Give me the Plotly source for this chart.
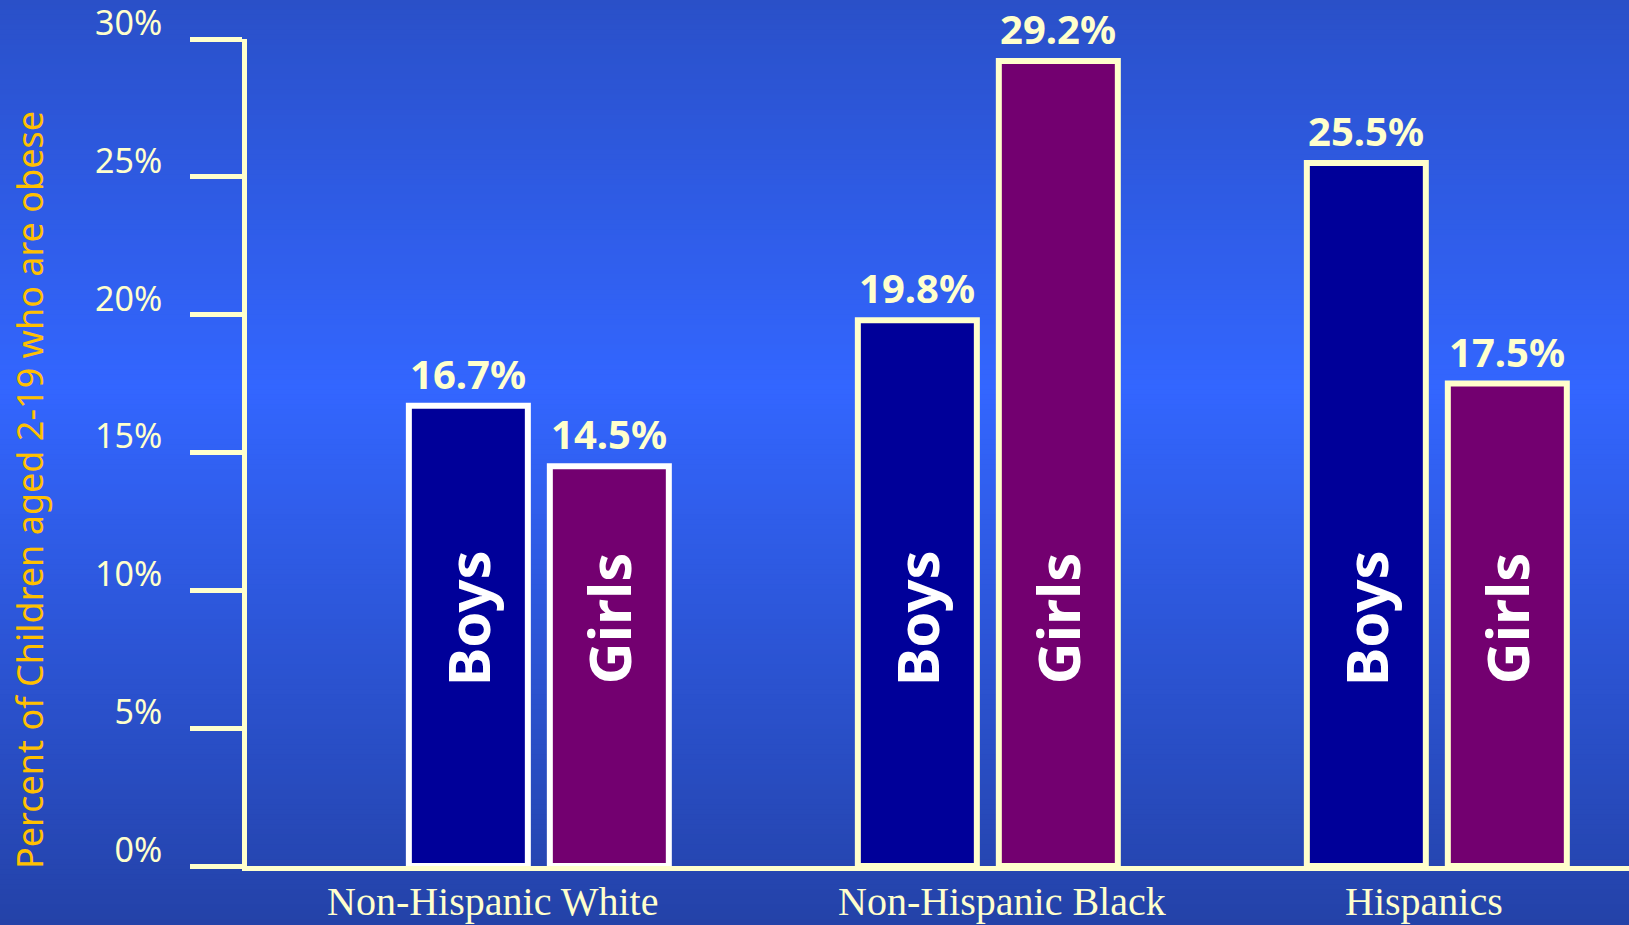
import numpy as np
import plotly.graph_objects as go

# ---- data ----
categories = ["Non-Hispanic White", "Non-Hispanic Black", "Hispanics"]
boys = [16.7, 19.8, 25.5]
girls = [14.5, 29.2, 17.5]
series_names = ["Boys", "Girls"]
y_ticks = [0, 5, 10, 15, 20, 25, 30]
y_tick_labels = ["0%", "5%", "10%", "15%", "20%", "25%", "30%"]
y_title = "Percent of Children aged 2-19 who are obese"

# ---- style ----
W, H = 1629, 925
ML, MR, MT, MB = 247, 0, 39, 59
CREAM = "#FFFFCC"
BOY_COLOR = "#000099"
GIRL_COLOR = "#730070"
border_colors = ["#FFFFFF", CREAM, CREAM]
slot_px = 70.5
label_shifts = [-46, 14, -13]
pw = W - ML - MR
ph = H - MT - MB

fig = go.Figure()
for name, vals, col, sh in [(series_names[0], boys, BOY_COLOR, -slot_px),
                            (series_names[1], girls, GIRL_COLOR, slot_px)]:
    fig.add_trace(go.Bar(
        x=categories, y=vals, name=name,
        marker=dict(color=col, line=dict(color=border_colors, width=6)),
        hoverinfo="skip", showlegend=False,
    ))
    for c, v in zip(categories, vals):
        fig.add_annotation(x=c, y=v, xref="x", yref="y", xshift=sh, yshift=3,
                           yanchor="bottom", showarrow=False,
                           text=f"<b>{v:.1f}%</b>",
                           font=dict(family="Noto Sans", size=40, color=CREAM))
        fig.add_annotation(x=c, y=9, xref="x", yref="y", xshift=sh,
                           showarrow=False, textangle=-90,
                           text=f"<b>{name}</b>",
                           font=dict(family="Noto Sans", size=58, color="#FFFFFF"))

for c, s in zip(categories, label_shifts):
    fig.add_annotation(x=c, y=0, xref="x", yref="paper", xshift=s, yshift=-11,
                       yanchor="top", showarrow=False, text=c,
                       font=dict(family="Liberation Serif", size=40, color=CREAM))

# y-axis title
fig.add_annotation(x=-(ML - 29) / pw, y=(H - MB - 490) / ph, xref="paper", yref="paper",
                   xanchor="center", yanchor="middle",
                   showarrow=False, textangle=-90, text=y_title,
                   font=dict(family="Noto Sans", size=36, color="#FFC000"))

# background gradient as stripes
stops_y = [0, 0.42 * H, H]
stops_c = np.array([[42, 80, 200], [51, 102, 255], [36, 66, 168]])
n = 185
edges = np.linspace(0, H, n + 1)
shapes = []
for i in range(n):
    ymid = (edges[i] + edges[i + 1]) / 2
    rgb = [int(round(np.interp(ymid, stops_y, stops_c[:, k]))) for k in range(3)]
    y0 = 1 - (edges[i + 1] - MT) / ph
    y1 = 1 - (edges[i] - MT) / ph
    shapes.append(dict(type="rect", xref="paper", yref="paper",
                       x0=-ML / pw - 0.01, x1=1.01, y0=y0 - 0.001, y1=y1 + 0.001,
                       line=dict(width=0), fillcolor=f"rgb({rgb[0]},{rgb[1]},{rgb[2]})",
                       layer="below"))

fig.update_layout(
    width=W, height=H,
    margin=dict(l=ML, r=MR, t=MT, b=MB, autoexpand=False),
    paper_bgcolor="rgb(45,85,210)",
    plot_bgcolor="rgba(0,0,0,0)",
    barmode="group", bargap=0.372, bargroupgap=0.156,
    shapes=shapes,
    xaxis=dict(range=[-0.65, 2.428], showline=True, linecolor=CREAM, linewidth=5,
               showticklabels=False, ticks="", showgrid=False, zeroline=False,
               fixedrange=True),
    yaxis=dict(range=[0, 30], tickmode="array", tickvals=y_ticks, ticktext=y_tick_labels,
               showline=True, linecolor=CREAM, linewidth=5,
               ticks="outside", ticklen=52, tickwidth=5, tickcolor=CREAM,
               ticklabelshift=-16, ticklabelstandoff=21, ticklabeloverflow="allow",
               tickfont=dict(family="Noto Sans", size=34, color=CREAM),
               showgrid=False, zeroline=False, fixedrange=True),
)

fig.write_html("out.html", config={"displayModeBar": False},
               post_script="document.body.style.margin='0';document.body.style.padding='0';document.body.style.overflow='hidden';")
